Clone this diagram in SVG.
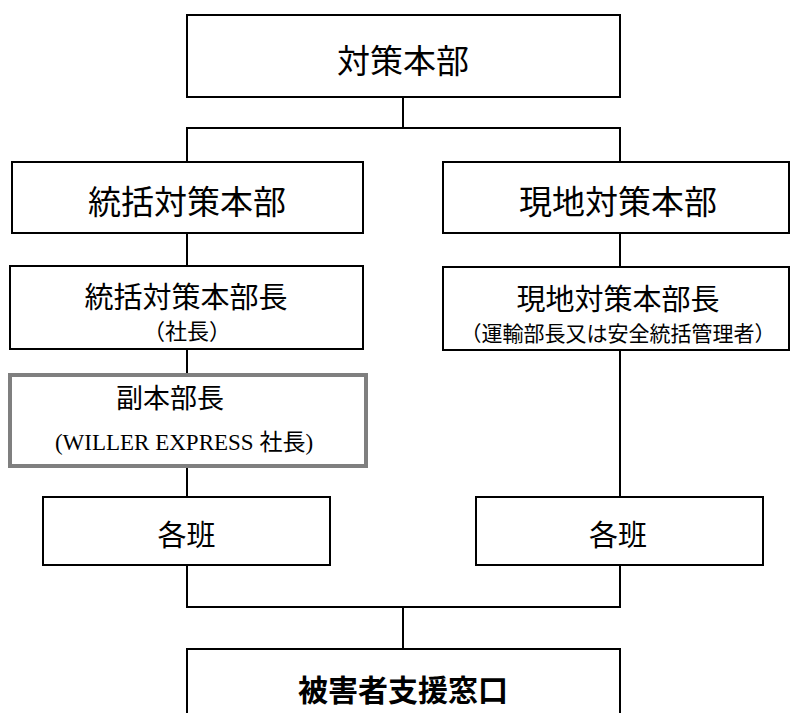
<svg xmlns="http://www.w3.org/2000/svg" width="790" height="713" viewBox="0 0 790 713">
<style>
.box{fill:#fff;stroke:#000;stroke-width:2}
.gbox{fill:#fff;stroke:#7f7f7f;stroke-width:4}
.con{fill:none;stroke:#000;stroke-width:2}
text{font-family:"Noto Sans CJK JP","Liberation Sans",sans-serif;fill:#000;text-anchor:middle;dominant-baseline:central}
.serif{font-family:"Liberation Serif","Noto Sans CJK JP",serif}
</style>
<rect width="790" height="713" fill="#fff"/>
<g id="connectors">
<path class="con" d="M403,97V128M187,162V128H620V162"/>
<path class="con" d="M187,233V266M620,233V267"/>
<path class="con" d="M187,349V373M187,468V497M620,350V497"/>
<path class="con" d="M187,565V607H620V565M403,607V649"/>
</g>
<g id="n-taisaku">
<rect class="box" x="187" y="15" width="433" height="82"/>
<text x="403" y="59" font-size="33">対策本部</text>
</g>
<g id="n-tokatsu">
<rect class="box" x="12" y="162" width="351" height="71"/>
<text x="187" y="200" font-size="33">統括対策本部</text>
</g>
<g id="n-genchi">
<rect class="box" x="443" y="162" width="346" height="71"/>
<text x="618" y="200" font-size="33">現地対策本部</text>
</g>
<g id="n-tokatsu-cho">
<rect class="box" x="10" y="266" width="353" height="83"/>
<text x="186" y="295" font-size="29">統括対策本部長</text>
<text x="187" y="329" font-size="22">（社長）</text>
</g>
<g id="n-genchi-cho">
<rect class="box" x="443" y="267" width="346" height="83"/>
<text x="618" y="297" font-size="29">現地対策本部長</text>
<text x="618" y="332" font-size="21">（運輸部長又は安全統括管理者）</text>
</g>
<g id="n-fuku">
<rect class="gbox" x="10" y="375" width="356" height="91"/>
<text class="serif" x="170" y="399" font-size="27">副本部長</text>
<text class="serif" x="184" y="442" font-size="23">(WILLER EXPRESS 社長)</text>
</g>
<g id="n-kakuhan-l">
<rect class="box" x="43" y="497" width="287" height="68"/>
<text x="186.5" y="533" font-size="29">各班</text>
</g>
<g id="n-kakuhan-r">
<rect class="box" x="476" y="497" width="287" height="68"/>
<text x="618" y="533" font-size="29">各班</text>
</g>
<g id="n-madoguchi">
<rect class="box" x="187" y="649" width="433" height="80"/>
<text class="serif" x="403" y="690" font-size="30" font-weight="bold">被害者支援窓口</text>
</g>
</svg>
